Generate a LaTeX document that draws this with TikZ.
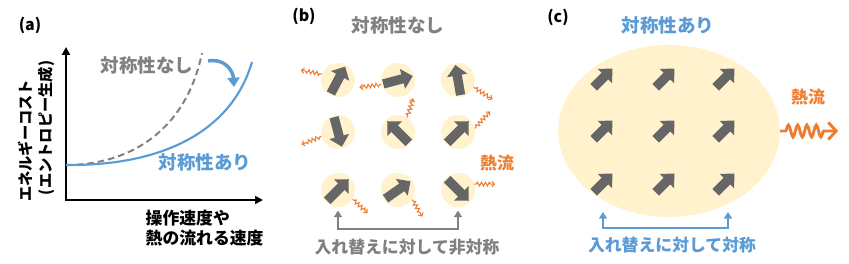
\documentclass[tikz,border=0pt]{standalone}
\usepackage{fontspec}
\setmainfont{Noto Sans CJK JP}
\usetikzlibrary{arrows.meta,decorations.pathmorphing,shapes.geometric}
\definecolor{symblue}{HTML}{5B9BD5}
\definecolor{heatorange}{HTML}{ED7D31}
\definecolor{spingray}{HTML}{666666}
\definecolor{textgray}{HTML}{808080}
\definecolor{cream}{HTML}{FFF2CC}
\tikzset{
  every node/.style={font=\bfseries},
  panel/.style={font=\fontsize{12}{14}\selectfont\bfseries},
  title/.style={font=\fontsize{14}{16}\selectfont\bfseries},
  note/.style={font=\fontsize{12.7}{15}\selectfont\bfseries},
  site/.style={circle, fill=cream, minimum size=0.9cm, inner sep=0pt},
  spin/.style={spingray, line width=7pt, -{Triangle[length=8pt,width=15pt]}},
  heat/.style={heatorange, line width=0.8pt, -{Straight Barb[length=2pt,width=4pt]},
    decorate, decoration={snake, amplitude=1.4pt, segment length=3pt, pre length=1.5pt, post length=2.5pt}},
  bigheat/.style={heatorange, line width=2.2pt, -{Straight Barb[length=6pt,width=13pt]},
    decorate, decoration={snake, amplitude=4.5pt, segment length=7pt, pre length=4pt, post length=8pt}},
  bracket/.style={line width=1.5pt, {Triangle[length=5pt,width=6pt]}-{Triangle[length=5pt,width=6pt]}},
}
\begin{document}
\begin{tikzpicture}[x=0.0265cm, y=-0.0265cm]
\useasboundingbox (0,0) rectangle (849,264);

% (a) energy cost against speed
\node[panel] (la) at (30,25) {(a)};
\draw[line width=1.5pt, {Triangle[length=6pt,width=6pt]}-{Triangle[length=6pt,width=6pt]}] (66,47) |- (263,200);
\node[font=\fontsize{11.5}{13}\selectfont\bfseries, rotate=90] (ylab1) at (25,141) {エネルギーコスト};
\node[font=\fontsize{11.5}{13}\selectfont\bfseries, rotate=90] (ylab2) at (46,128) {(エントロピー生成)};
\coordinate (start) at (66,165);
\draw[textgray, line width=1.5pt, dash pattern=on 5pt off 3pt] (start) .. controls (125,165) and (185,135) .. (202,53);
\draw[symblue, line width=1.6pt] (start) .. controls (165,166) and (232,130) .. (252,62);
\node[title, textgray] (nosym) at (147,65) {対称性なし};
\node[title, symblue] (sym) at (205,162) {対称性あり};
\draw[symblue, line width=2.6pt, -{Triangle[length=7pt,width=9pt]}] (208,61) .. controls (224,58) and (233,70) .. (234,87);
\node[note, align=left, anchor=west] (xlab) at (141,228) {操作速度や\\熱の流れる速度};

% (b) without symmetry
\node[panel] (lb) at (304,16) {(b)};
\node[title, textgray] (tb) at (398,25) {対称性なし};
\foreach \n/\x/\y/\a in {b11/338/80/62, b12/398/80/15, b13/458/80/100,
                         b21/338/132/-75, b22/398/132/135, b23/458/132/45,
                         b31/338/190/45, b32/398/190/35, b33/458/190/-45} {
  \node[site] (\n) at (\x,\y) {};
  \draw[spin] ([shift={(\a+180:11.5pt)}]\n.center) -- ([shift={(\a:11.5pt)}]\n.center);
}
\draw[heat] (b11.160) -- ++(-21,-4);
\draw[heat] (b12.195) -- ++(-22,3);
\draw[heat] (b22.58) -- ++(6,-19);
\draw[heat] (b13.-25) -- ++(19,12);
\draw[heat] (b23.12) -- ++(15,-17);
\draw[heat] (b21.195) -- ++(-20,8);
\draw[heat] (b31.-32) -- ++(15,14);
\draw[heat] (b32.-34) -- ++(10,17);
\draw[heat] (b33.20) -- ++(21,0);
\node[note, heatorange] (hb) at (497,163) {熱流};
\draw[bracket, textgray] ([yshift=-2.5pt]b31.south) -- ++(0,18) -| ([yshift=-2.5pt]b33.south);
\node[note, textgray] (nb) at (407,247) {入れ替えに対して非対称};

% (c) with symmetry
\node[panel] (lc) at (558,17) {(c)};
\node[title, symblue] (tc) at (668,25) {対称性あり};
\node[ellipse, fill=cream, minimum width=5.88cm, minimum height=4.56cm, inner sep=0pt] (blob) at (669,131) {};
\foreach \x in {603,665,725} {
  \foreach \y in {78,130,183} {
    \coordinate (s) at (\x,\y);
    \draw[spin] ([shift={(225:10pt)}]s) -- ([shift={(45:10pt)}]s);
  }
}
\draw[bigheat] (blob.east) -- ++(58,0);
\node[note, heatorange] (hc) at (808,97) {熱流};
\coordinate (cl) at (603,212);
\coordinate (cr) at (728,212);
\draw[bracket, symblue] (cl) -- ++(0,16) -| (cr);
\node[note, symblue] (nc) at (672,245) {入れ替えに対して対称};
\end{tikzpicture}
\end{document}
